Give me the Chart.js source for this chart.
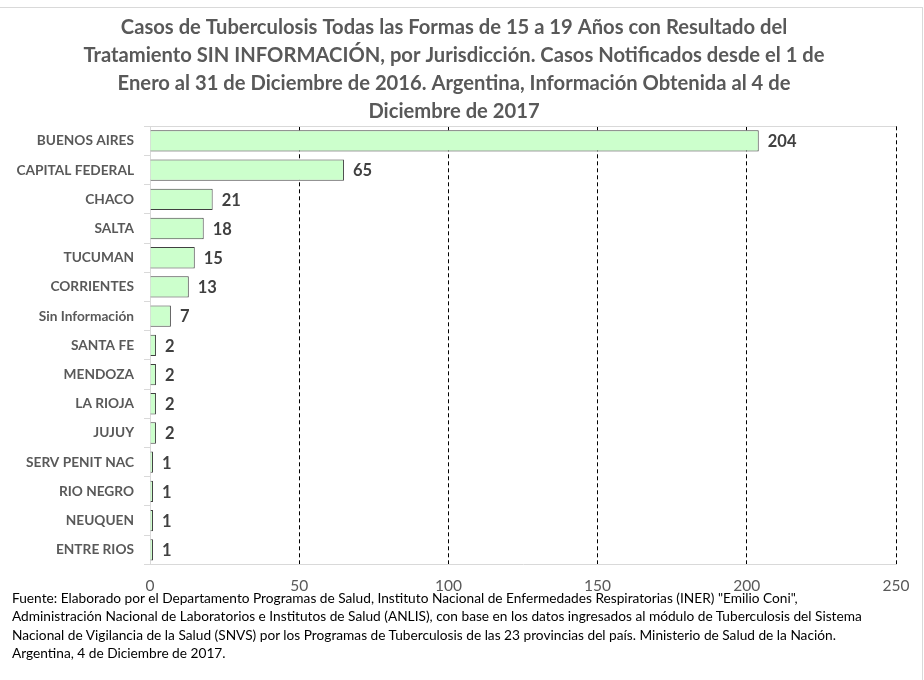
<!DOCTYPE html>
<html><head><meta charset="utf-8">
<script src="https://cdn.jsdelivr.net/npm/chart.js@4"></script>
<style>
html,body{margin:0;padding:0;background:#fff;}
#wrap{position:relative;width:924px;height:680px;overflow:hidden;}
#frame{position:absolute;left:-2px;top:7px;width:925px;height:700px;border:1px solid #d9d9d9;box-sizing:border-box;}
canvas{position:absolute;left:0;top:0;}
#foot{position:absolute;left:12px;top:589px;font-family:Lato,"Open Sans",sans-serif;font-size:13.7px;line-height:18.4px;color:#000;white-space:nowrap;}
</style></head>
<body><div id="wrap"><div id="frame"></div><canvas id="c" width="924" height="680"></canvas><div id="foot"></div></div>
<script>
const categories = ["BUENOS AIRES","CAPITAL FEDERAL","CHACO","SALTA","TUCUMAN","CORRIENTES","Sin Información","SANTA FE","MENDOZA","LA RIOJA","JUJUY","SERV PENIT NAC","RIO NEGRO","NEUQUEN","ENTRE RIOS"];
const values = [204,65,21,18,15,13,7,2,2,2,2,1,1,1,1];
const xTicks = [0,50,100,150,200,250];
const titleLines = [
  "Casos de Tuberculosis Todas las Formas de 15 a 19 Años con Resultado del",
  "Tratamiento SIN INFORMACIÓN, por Jurisdicción. Casos Notificados desde el 1 de",
  "Enero al 31 de Diciembre de 2016. Argentina, Información Obtenida al 4 de",
  "Diciembre de 2017"
];
const footerLines = [
  "Fuente: Elaborado por el Departamento Programas de Salud, Instituto Nacional de Enfermedades Respiratorias (INER) \"Emilio Coni\",",
  "Administración Nacional de Laboratorios e Institutos de Salud (ANLIS), con base en los datos ingresados al módulo de Tuberculosis del Sistema",
  "Nacional de Vigilancia de la Salud (SNVS) por los Programas de Tuberculosis de las 23 provincias del país. Ministerio de Salud de la Nación.",
  "Argentina, 4 de Diciembre de 2017."
];
const foot = document.getElementById('foot');
footerLines.forEach(l => { const d = document.createElement('div'); d.textContent = l; foot.appendChild(d); });

const FONT = 'Lato, "Open Sans", sans-serif';

const valueLabels = {
  id: 'valueLabels',
  afterDatasetsDraw(chart) {
    const ctx = chart.ctx;
    const meta = chart.getDatasetMeta(0);
    ctx.save();
    ctx.font = 'bold 16.5px ' + FONT;
    ctx.fillStyle = '#404040';
    ctx.textBaseline = 'middle';
    ctx.textAlign = 'left';
    meta.data.forEach((bar, i) => {
      ctx.fillText(String(chart.data.datasets[0].data[i]), bar.x + 9, bar.y + 1);
    });
    ctx.restore();
  }
};
const topLine = {
  id: 'topLine',
  beforeDatasetsDraw(chart) {
    const {ctx, chartArea} = chart;
    ctx.save();
    ctx.strokeStyle = '#d9d9d9';
    ctx.lineWidth = 1;
    ctx.beginPath();
    ctx.moveTo(chartArea.left, Math.round(chartArea.top) + 0.5);
    ctx.lineTo(chartArea.right, Math.round(chartArea.top) + 0.5);
    ctx.stroke();
    ctx.restore();
  }
};

new Chart(document.getElementById('c'), {
  type: 'bar',
  data: {
    labels: categories,
    datasets: [{
      data: values,
      backgroundColor: '#CCFFCC',
      borderColor: '#404040',
      borderWidth: 1,
      barPercentage: 0.73,
      categoryPercentage: 1.0
    }]
  },
  plugins: [valueLabels, topLine],
  options: {
    indexAxis: 'y',
    responsive: false,
    animation: false,
    devicePixelRatio: 1,
    layout: { padding: { left: 12, right: 28, top: 0, bottom: 73 } },
    plugins: {
      legend: { display: false },
      tooltip: { enabled: false },
      title: {
        display: true,
        text: titleLines,
        color: '#595959',
        font: { family: FONT, size: 20.2, weight: 'bold', lineHeight: 1.39 },
        padding: { top: 13, bottom: 1 }
      }
    },
    scales: {
      x: {
        min: 0, max: 250,
        afterBuildTicks(scale) { scale.ticks = xTicks.map(v => ({ value: v })); },
        ticks: { color: '#595959', font: { family: FONT, size: 15.5 }, padding: 12 },
        grid: {
          drawTicks: false,
          color: ctx => (ctx.tick && ctx.tick.value === 0) ? 'rgba(0,0,0,0)' : '#000000',
          lineWidth: 1
        },
        border: { display: true, color: '#d9d9d9', dash: [4, 3] }
      },
      y: {
        afterFit(scale) { scale.width = 138; },
        ticks: { color: '#595959', font: { family: FONT, size: 13.7, weight: 'bold' }, padding: 10 },
        grid: { offset: true, drawOnChartArea: false, drawTicks: true, tickLength: 6, color: '#d9d9d9' },
        border: { display: true, color: '#d9d9d9' }
      }
    }
  }
});
</script>
</body></html>
